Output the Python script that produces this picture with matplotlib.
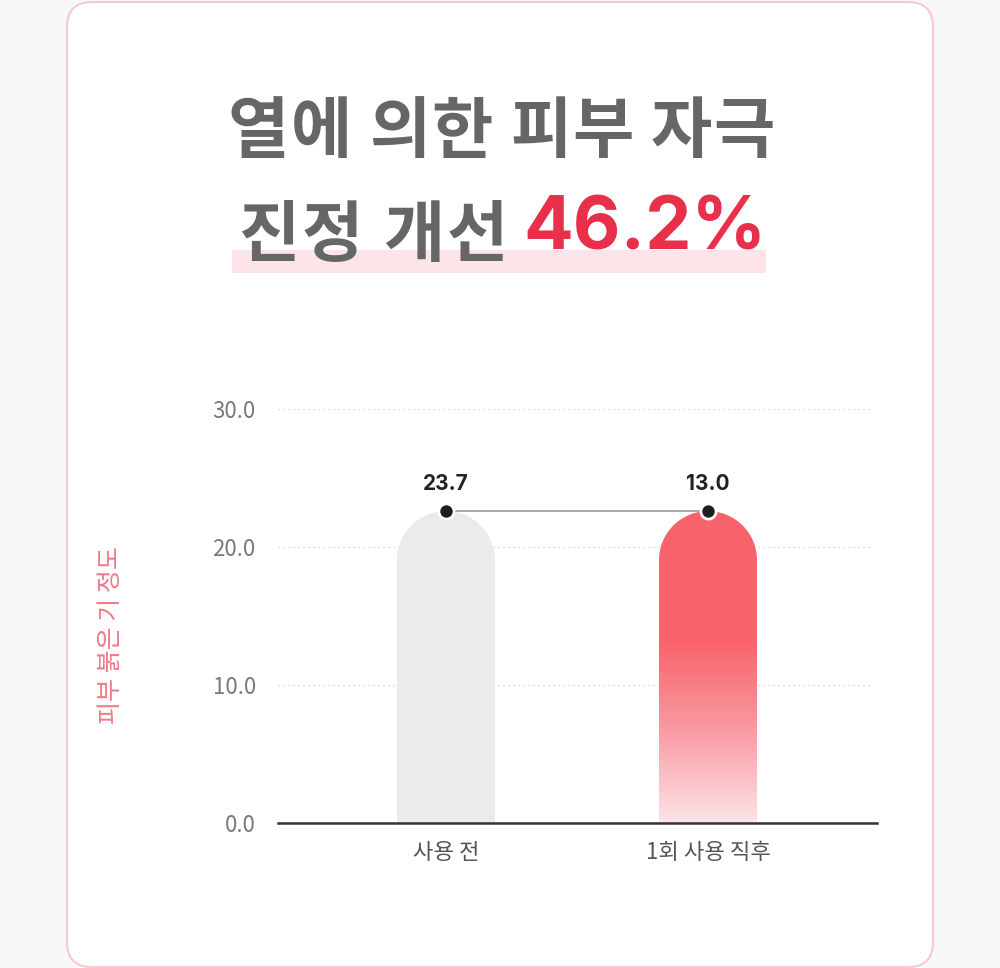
import matplotlib.pyplot as plt
import numpy as np
from matplotlib.patches import FancyBboxPatch, Rectangle, PathPatch
from matplotlib.path import Path
from matplotlib.colors import LinearSegmentedColormap

plt.rcParams['font.family'] = ['Noto Sans CJK KR', 'DejaVu Sans']

# data
categories = ['사용 전', '1회 사용 직후']
values = [23.7, 13.0]          # labels shown above the bars
drawn_heights = [22.6, 22.6]   # the picture draws both bars to the same height
y_ticks = [0, 10, 20, 30]
y_label = '피부 붉은 기 정도'
title_1 = '열에 의한 피부 자극'
title_2 = '진정 개선'
title_pct = '46.2%'

W, H = 1000, 968
fig = plt.figure(figsize=(W / 100, H / 100), dpi=100)
fig.patch.set_facecolor('#f8f8f8')
renderer = fig.canvas.get_renderer()

# card background
card = FancyBboxPatch((67 / W, 1 / H), 866 / W, 965 / H,
                      boxstyle='round,pad=0,rounding_size=0.025',
                      transform=fig.transFigure, facecolor='white',
                      edgecolor='#f8c8d2', linewidth=1.5, mutation_aspect=W / H)
fig.patches.append(card)


def tracked_text(s, x0, x1, y, **kw):
    # draw a string char by char so it fills x0..x1 (pixels) with tight tracking
    size_px = kw['fontsize'] * 100 / 72
    items = []
    for ch in s:
        if ch == ' ':
            items.append((None, size_px * 0.22))
            continue
        t = fig.text(0, 1 - y / H, ch, ha='left', va='center', **kw)
        items.append((t, t.get_window_extent(renderer).width))
    n_gaps = len(items) - 1
    track = (x1 - x0 - sum(w for _, w in items)) / n_gaps
    x = x0
    for t, w in items:
        if t is not None:
            t.set_x(x / W)
        x += w + track


# title
tracked_text(title_1, 228, 775, 133, fontsize=48, fontweight='black',
             color='#666666', zorder=3)
fig.patches.append(Rectangle((232 / W, 1 - 273 / H), 534 / W, 23 / H,
                             transform=fig.transFigure, facecolor='#fde4e8',
                             edgecolor='none', zorder=1))
tracked_text(title_2, 238, 508, 237, fontsize=48, fontweight='black',
             color='#666666', zorder=3)
fig.text(523 / W, 1 - 230 / H, title_pct, ha='left', va='center', fontsize=53,
         fontweight='bold', color='#e8304a', zorder=3, family='Inter')

# axes
ax_l, ax_r, ax_b, ax_t = 278, 877, 823, 409
ax = fig.add_axes([ax_l / W, 1 - ax_b / H, (ax_r - ax_l) / W, (ax_b - ax_t) / H])
ax.set_zorder(5)
ax.set_facecolor('none')
x = np.arange(len(categories))
ax.set_xlim(-0.641, 1.645)
ax.set_ylim(0, 30)
for s in ['top', 'right', 'left']:
    ax.spines[s].set_visible(False)
ax.spines['bottom'].set_color('#333333')
ax.spines['bottom'].set_linewidth(1.8)
ax.spines['bottom'].set_zorder(5)
ax.set_yticks(y_ticks)
ax.set_yticklabels([f'{v:.1f}' for v in y_ticks], fontsize=16, color='#7a7a7a')
ax.tick_params(axis='y', length=0, pad=16)
ax.set_xticks(x)
ax.set_xticklabels(categories, fontsize=16, color='#555555')
ax.tick_params(axis='x', length=0, pad=13)
for v in y_ticks[1:]:
    ax.axhline(v, xmax=0.99, color='#cccccc', lw=0.9, ls=(0, (1, 3)), zorder=0)

ax.set_ylabel(y_label, fontsize=18, color='#f07a8a', labelpad=0)
ax.yaxis.set_label_coords(-(ax_l - 124) / (ax_r - ax_l), (ax_b - 635) / (ax_b - ax_t))

# rounded-top bars
px_x = (ax_r - ax_l) / 2.286
px_y = (ax_b - ax_t) / 30
bw = 98 / px_x
rx = bw / 2
ry = 49 / px_y


def dome_bar(xc, h):
    t = np.linspace(np.pi, 0, 60)
    xs = [xc - rx] + list(xc + rx * np.cos(t)) + [xc + rx, xc - rx]
    ys = [0] + list(h - ry + ry * np.sin(t)) + [0, 0]
    verts = list(zip(xs, ys))
    codes = [Path.MOVETO] + [Path.LINETO] * (len(verts) - 2) + [Path.CLOSEPOLY]
    return Path(verts, codes)


p1 = PathPatch(dome_bar(x[0], drawn_heights[0]), facecolor='#ebebeb',
               edgecolor='none', zorder=2)
ax.add_patch(p1)

p2 = PathPatch(dome_bar(x[1], drawn_heights[1]), facecolor='none',
               edgecolor='none', zorder=2)
ax.add_patch(p2)
cmap = LinearSegmentedColormap.from_list(
    'bar', [(0, '#fde4e8'), (0.3, '#f99aa2'), (0.58, '#f8636b'), (1, '#f8636b')])
grad = np.linspace(0, 1, 256).reshape(-1, 1)
im = ax.imshow(grad, cmap=cmap, origin='lower', aspect='auto',
               extent=[x[1] - rx, x[1] + rx, 0, drawn_heights[1]], zorder=2)
im.set_clip_path(p2)
ax.set_xlim(-0.641, 1.645)
ax.set_ylim(0, 30)

# connecting line, points, value labels
ax.plot(x, drawn_heights, color='#999999', lw=1.2, zorder=3)
ax.scatter(x, drawn_heights, s=120, color='#1e1e1e', edgecolor='white',
           linewidth=2, zorder=4)
for xi, h, v in zip(x, drawn_heights, values):
    ax.annotate(f'{v:.1f}', (xi, h), xytext=(0, 12), textcoords='offset points',
                ha='center', va='bottom', fontsize=15, fontweight='bold',
                color='#222222', family='Inter')

fig.savefig('out.png', dpi=100, facecolor=fig.get_facecolor())
